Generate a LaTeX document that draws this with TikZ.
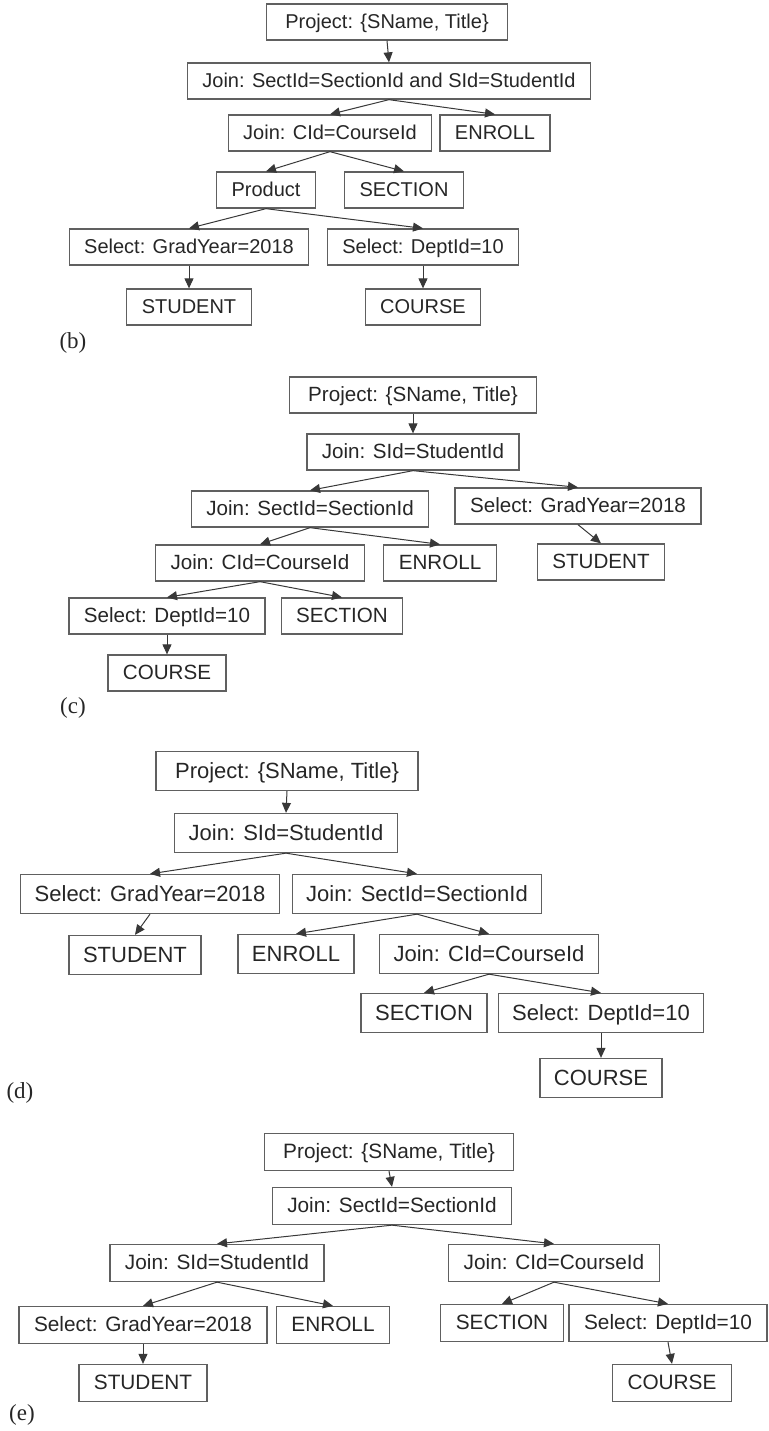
\documentclass[tikz,border=0pt]{standalone}
\usepackage{fontspec}
\setmainfont{Liberation Serif}
\setsansfont{Liberation Sans}
\usepackage{xcolor}
\usetikzlibrary{arrows.meta}

\definecolor{boxline}{HTML}{606060}
\definecolor{boxtext}{HTML}{262626}
\definecolor{arrowline}{HTML}{383838}

\begin{document}
\begin{tikzpicture}[
    x=0.5pt, y=-0.5pt,
    node distance=28.5pt,
    box/.style={rectangle, draw=boxline, line width=0.65pt, text=boxtext, inner xsep=7.5pt, minimum height=18pt, text height=7.5pt, text depth=0.6pt, font=\sffamily\fontsize{10}{12}\selectfont},
    rootbox/.style={box, inner xsep=9.5pt},
    arrow/.style={-{Triangle[length=5pt,width=4.5pt]}, draw=arrowline, line width=0.5pt},
    figlabel/.style={font=\fontsize{11.5}{13}\selectfont, text=boxtext}
]
\useasboundingbox (0,0) rectangle (769,1431);

% (b) join of the product with SECTION and ENROLL
\node[rootbox] (bP) at (387,22) {Project: \{SName, Title\}};
\node[box, below of=bP, xshift=1pt, yshift=-1pt] (bJ1) {Join: SectId=SectionId and SId=StudentId};
\node[box, below of=bJ1, xshift=-29.5pt, yshift=2.5pt] (bJ2) {Join: CId=CourseId};
\node[box, below of=bJ1, xshift=53pt, yshift=2.5pt] (bEn) {ENROLL};
\node[box, below of=bJ2, xshift=-32pt] (bPr) {Product};
\node[box, below of=bJ2, xshift=37pt] (bSe) {SECTION};
\node[box, below of=bPr, xshift=-38.5pt] (bG) {Select: GradYear=2018};
\node[box, below of=bPr, xshift=78.5pt] (bD) {Select: DeptId=10};
\node[box, below of=bG, yshift=-1.5pt] (bSt) {STUDENT};
\node[box, below of=bD, yshift=-1.5pt] (bCo) {COURSE};
\node[figlabel] (bL) at (73,343) {(b)};

\draw[arrow] (bP.south) -- (bJ1.north);
\draw[arrow] (bJ1.south) -- (bJ2.north);
\draw[arrow] (bJ1.south) -- (bEn.north);
\draw[arrow] (bJ2.south) -- (bPr.north);
\draw[arrow] (bJ2.south) -- (bSe.north);
\draw[arrow] (bPr.south) -- (bG.north);
\draw[arrow] (bPr.south) -- (bD.north);
\draw[arrow] (bG.south) -- (bSt.north);
\draw[arrow] (bD.south) -- (bCo.north);

% (c) left-deep tree, STUDENT selected on the right
\begin{scope}[box/.append style={font=\sffamily\fontsize{10.3}{12}\selectfont}]
\node[rootbox] (cP) at (413,395) {Project: \{SName, Title\}};
\node[box, below of=cP] (cJ1) {Join: SId=StudentId};
\node[box, below of=cJ1, xshift=-51.5pt] (cJ2) {Join: SectId=SectionId};
\node[box, below of=cJ1, xshift=82.5pt, yshift=1.5pt] (cG) {Select: GradYear=2018};
\node[box, below of=cG, xshift=11.5pt, yshift=0.5pt] (cSt) {STUDENT};
\node[box, below of=cJ2, xshift=-25pt, yshift=1.5pt] (cJ3) {Join: CId=CourseId};
\node[box, below of=cJ2, xshift=65pt, yshift=1.5pt] (cEn) {ENROLL};
\node[box, below of=cJ3, xshift=-46.5pt, yshift=2pt] (cD) {Select: DeptId=10};
\node[box, below of=cJ3, xshift=41pt, yshift=2pt] (cSe) {SECTION};
\node[box, below of=cD] (cCo) {COURSE};
\node[figlabel] (cL) at (73,708) {(c)};

\draw[arrow] (cP.south) -- (cJ1.north);
\draw[arrow] (cJ1.south) -- (cJ2.north);
\draw[arrow] (cJ1.south) -- (cG.north);
\draw[arrow] (cG.south) -- (cSt.north);
\draw[arrow] (cJ2.south) -- (cJ3.north);
\draw[arrow] (cJ2.south) -- (cEn.north);
\draw[arrow] (cJ3.south) -- (cD.north);
\draw[arrow] (cJ3.south) -- (cSe.north);
\draw[arrow] (cD.south) -- (cCo.north);
\end{scope}

% (d) right-deep tree
\begin{scope}[node distance=30.5pt,
    box/.append style={font=\sffamily\fontsize{11}{13}\selectfont, inner xsep=7pt, minimum height=19.5pt, text height=8.2pt, text depth=0.6pt}]
\node[rootbox] (dP) at (287,771) {Project: \{SName, Title\}};
\node[box, below of=dP, xshift=-0.5pt, yshift=-0.5pt] (dJ1) {Join: SId=StudentId};
\node[box, below of=dJ1, xshift=-68pt] (dG) {Select: GradYear=2018};
\node[box, below of=dJ1, xshift=65.5pt] (dJ2) {Join: SectId=SectionId};
\node[box, below of=dG, xshift=-7.5pt] (dSt) {STUDENT};
\node[box, below of=dJ2, xshift=-60.5pt, yshift=0.5pt] (dEn) {ENROLL};
\node[box, below of=dJ2, xshift=36pt, yshift=0.5pt] (dJ3) {Join: CId=CourseId};
\node[box, below of=dJ3, xshift=-32.5pt, yshift=1pt] (dSe) {SECTION};
\node[box, below of=dJ3, xshift=56pt, yshift=1pt] (dD) {Select: DeptId=10};
\node[box, below of=dD, yshift=-2pt] (dCo) {COURSE};
\node[figlabel] (dL) at (20,1093) {(d)};

\draw[arrow] (dP.south) -- (dJ1.north);
\draw[arrow] (dJ1.south) -- (dG.north);
\draw[arrow] (dJ1.south) -- (dJ2.north);
\draw[arrow] (dG.south) -- (dSt.north);
\draw[arrow] (dJ2.south) -- (dEn.north);
\draw[arrow] (dJ2.south) -- (dJ3.north);
\draw[arrow] (dJ3.south) -- (dSe.north);
\draw[arrow] (dJ3.south) -- (dD.north);
\draw[arrow] (dD.south) -- (dCo.north);
\end{scope}

% (e) bushy tree
\begin{scope}[box/.append style={font=\sffamily\fontsize{10.4}{12.5}\selectfont, minimum height=18.5pt}]
\node[rootbox] (eP) at (389,1152) {Project: \{SName, Title\}};
\node[box, below of=eP, xshift=1.5pt, yshift=1.5pt] (eJ1) {Join: SectId=SectionId};
\node[box, below of=eJ1, xshift=-87.5pt] (eJ2) {Join: SId=StudentId};
\node[box, below of=eJ1, xshift=81pt] (eJ3) {Join: CId=CourseId};
\node[box, below of=eJ2, xshift=-37pt, yshift=-2.5pt] (eG) {Select: GradYear=2018};
\node[box, below of=eJ2, xshift=58pt, yshift=-2.5pt] (eEn) {ENROLL};
\node[box, below of=eJ3, xshift=-26pt, yshift=-1.5pt] (eSe) {SECTION};
\node[box, below of=eJ3, xshift=57pt, yshift=-1.5pt] (eD) {Select: DeptId=10};
\node[box, below of=eG, yshift=-0.5pt] (eSt) {STUDENT};
\node[box, below of=eD, xshift=2pt, yshift=-1.5pt] (eCo) {COURSE};
\node[figlabel] (eL) at (22,1415) {(e)};

\draw[arrow] (eP.south) -- (eJ1.north);
\draw[arrow] (eJ1.south) -- (eJ2.north);
\draw[arrow] (eJ1.south) -- (eJ3.north);
\draw[arrow] (eJ2.south) -- (eG.north);
\draw[arrow] (eJ2.south) -- (eEn.north);
\draw[arrow] (eJ3.south) -- (eSe.north);
\draw[arrow] (eJ3.south) -- (eD.north);
\draw[arrow] (eG.south) -- (eSt.north);
\draw[arrow] (eD.south) -- (eCo.north);
\end{scope}
\end{tikzpicture}
\end{document}
